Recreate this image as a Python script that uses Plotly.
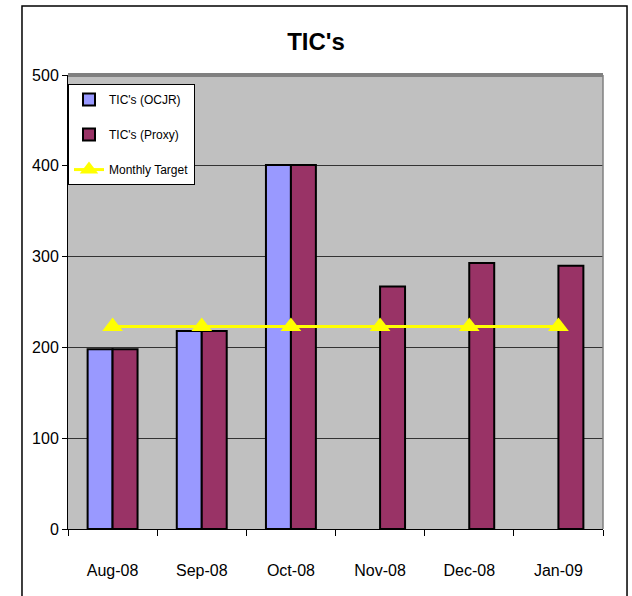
import plotly.graph_objects as go

months = ["Aug-08", "Sep-08", "Oct-08", "Nov-08", "Dec-08", "Jan-09"]
tics_ocjr = [198, 218, 401, None, None, None]
tics_proxy = [198, 218, 401, 267, 293, 290]
monthly_target = [223, 223, 223, 223, 223, 223]

font_family = "Liberation Sans Narrow, Arial Narrow, Liberation Sans, Arial"

fig = go.Figure()
fig.add_trace(go.Bar(
    x=months, y=tics_ocjr, name="TIC's (OCJR)", legendgroup="a",
    marker=dict(color="#9999FF", line=dict(color="black", width=2)),
))
fig.add_trace(go.Bar(
    x=months, y=tics_proxy, name="TIC's (Proxy)", legendgroup="b",
    marker=dict(color="#993366", line=dict(color="black", width=2)),
))
fig.add_trace(go.Scatter(
    x=months, y=monthly_target, name="Monthly Target", mode="lines+markers", legendgroup="c",
    line=dict(color="#FFFF00", width=3),
    marker=dict(symbol="triangle-up", size=18, color="#FFFF00"),
))

fig.update_layout(
    width=632, height=596,
    margin=dict(l=68, r=29, t=75, b=67),
    paper_bgcolor="white",
    plot_bgcolor="#C0C0C0",
    barmode="group",
    bargap=0.44,
    bargroupgap=0,
    font=dict(family=font_family, color="black", size=16),
    title=dict(text="<b>TIC's</b>", x=0.5, xanchor="center", y=0.93, yanchor="middle",
               font=dict(size=24, family=font_family)),
    legend=dict(
        x=0.0, y=0.98, xanchor="left", yanchor="top",
        bgcolor="white", bordercolor="black", borderwidth=1,
        font=dict(size=12, family=font_family),
        traceorder="grouped", tracegroupgap=16,
    ),
    xaxis=dict(
        type="category", tickson="boundaries", ticks="outside", ticklen=6,
        tickcolor="black", showline=True, linecolor="black", linewidth=1,
        showgrid=False, tickfont=dict(size=16), ticklabelstandoff=27,
    ),
    yaxis=dict(
        range=[0, 500], dtick=100, ticks="outside", ticklen=5, tickcolor="black",
        showline=True, linecolor="black", linewidth=1,
        showgrid=True, gridcolor="#333333", gridwidth=1, zeroline=False,
        tickfont=dict(size=16),
    ),
    shapes=[
        dict(type="rect", xref="paper", yref="paper", x0=-0.086, x1=1.0449, y0=-0.3, y1=1.152,
             line=dict(color="black", width=1.5), fillcolor="rgba(0,0,0,0)", layer="below"),
        dict(type="line", xref="paper", yref="paper", x0=0, x1=1, y0=1, y1=1,
             line=dict(color="#808080", width=4)),
        dict(type="line", xref="paper", yref="paper", x0=1, x1=1, y0=0, y1=1,
             line=dict(color="#808080", width=1.5)),
    ],
)

fig.write_html("out.html", config={"displayModeBar": False},
               post_script="document.body.style.margin='0';")
